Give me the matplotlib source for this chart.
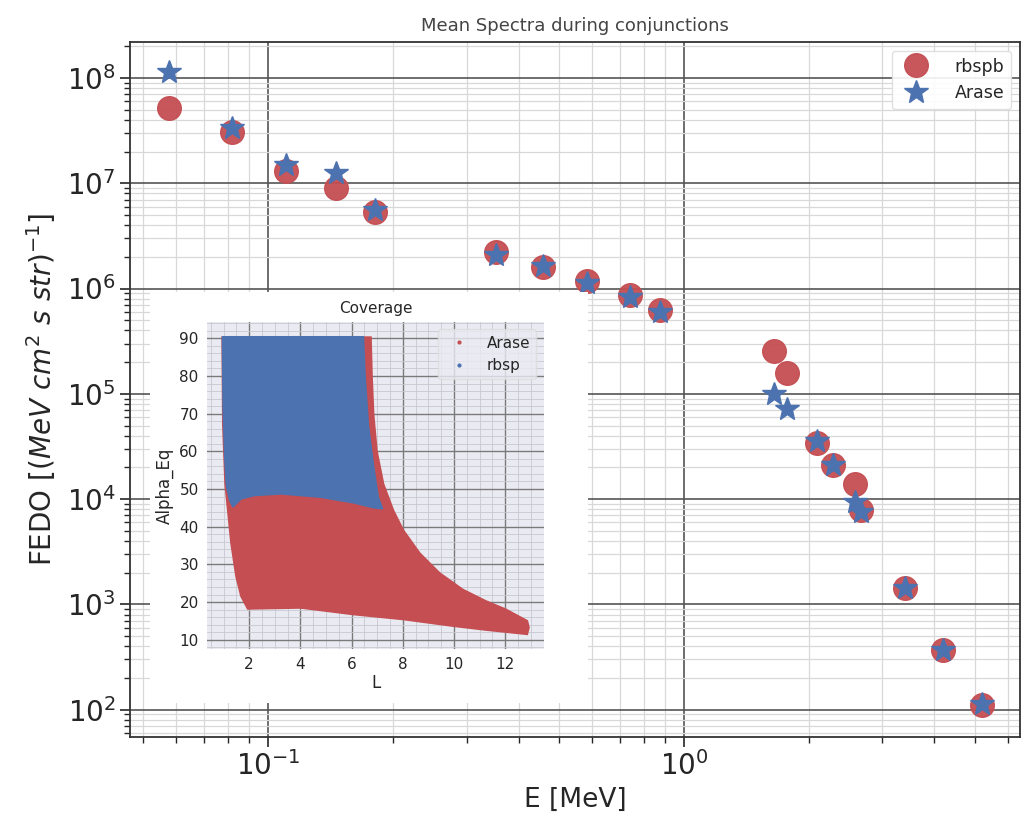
import numpy as np
import matplotlib
matplotlib.use("Agg")
import matplotlib.pyplot as plt
from matplotlib.patches import Rectangle
from matplotlib.lines import Line2D
from matplotlib.ticker import MultipleLocator, NullFormatter

# Espectros medios
energy = [0.0579, 0.0818, 0.1103, 0.1455, 0.1811, 0.3526, 0.4589, 0.5835, 0.7417, 0.8757,
          1.643, 1.766, 2.088, 2.281, 2.581, 2.668, 3.399, 4.201, 5.195]
fedo_rbspb = [5.15e7, 3.05e7, 1.32e7, 8.95e6, 5.37e6, 2.22e6, 1.61e6, 1.19e6, 8.61e5, 6.25e5,
              2.53e5, 1.56e5, 3.43e4, 2.10e4, 1.40e4, 7.85e3, 1.43e3, 367, 110]
fedo_arase = [1.13e8, 3.33e7, 1.49e7, 1.24e7, 5.57e6, 2.08e6, 1.64e6, 1.13e6, 8.3e5, 5.98e5,
              9.9e4, 7.16e4, 3.56e4, 2.1e4, 9.4e3, 7.57e3, 1.43e3, 367, 113]

# Contorno de la cobertura (L, Alpha_Eq)
arase_L = [0.955, 6.748, 6.787, 6.852, 6.981, 7.239, 7.626, 8.013, 8.658, 9.432, 10.335,
           11.239, 12.013, 12.852, 12.916, 12.852, 11.239, 9.948, 8.013, 6.077, 4.013,
           1.948, 1.690, 1.497, 1.303, 1.200, 1.071, 0.981]
arase_alpha = [90.26, 90.26, 80.2, 69.7, 60.07, 51.3, 44.3, 39.06, 32.93, 27.68, 23.3,
               20.24, 18.05, 14.99, 13.24, 11.49, 12.63, 13.67, 15.43, 16.74, 18.49,
               18.23, 21.55, 26.8, 35.56, 42.56, 51.3, 67.07]
rbsp_L = [0.955, 6.465, 6.529, 6.658, 6.852, 7.045, 7.213, 6.852, 6.077, 4.787, 3.239,
          2.206, 1.690, 1.368, 1.239, 1.110, 1.045, 0.981]
rbsp_alpha = [90.44, 90.44, 80.2, 67.07, 56.56, 47.81, 44.75, 45.01, 46.32, 47.81, 48.69,
              48.25, 47.37, 45.19, 46.94, 50.88, 58.32, 71.44]

red = '#C44E52'
blue = '#4C72B0'
text_col = '#262626'

plt.rcParams['font.family'] = 'DejaVu Sans'
plt.rcParams['text.color'] = text_col
plt.rcParams['axes.labelcolor'] = text_col
plt.rcParams['xtick.color'] = text_col
plt.rcParams['ytick.color'] = text_col

fig = plt.figure(figsize=(10.25, 8.22), dpi=100)
ax = fig.add_axes([0.127, 0.1034, 0.868, 0.8456])
ax.set_zorder(0)

ax.plot(energy, fedo_rbspb, 'o', color=red, markersize=17, alpha=0.95, label='rbspb', zorder=3)
ax.plot(energy, fedo_arase, '*', color=blue, markersize=18, label='Arase', zorder=4)
ax.set_xscale('log')
ax.set_yscale('log')
ax.set_xlim(0.0466, 6.42)
ax.set_ylim(55, 2.2e8)
ax.xaxis.set_minor_formatter(NullFormatter())
ax.yaxis.set_minor_formatter(NullFormatter())

ax.grid(which='major', color='#555555', linewidth=1.2)
ax.grid(which='minor', color='#d8d8d8', linewidth=0.9)
ax.set_axisbelow(True)
for s in ax.spines.values():
    s.set_color('#333333')
    s.set_linewidth(1.3)
ax.tick_params(which='major', labelsize=20, length=7, width=1.2)
ax.tick_params(which='minor', length=4, width=1.0)
ax.set_xlabel('E [MeV]', fontsize=19)
ax.set_ylabel('FEDO [$(MeV\\ cm^2\\ s\\ str)^{-1}$]', fontsize=20, labelpad=6)
ax.set_title('Mean Spectra during conjunctions', fontsize=13, color='#444444', pad=8)
ax.legend(loc='upper right', fontsize=12.5, markerscale=1.0, framealpha=0.9,
          edgecolor='#dddddd', borderpad=0.4, handletextpad=1.2)

# Fondo blanco del recuadro
fig.add_artist(Rectangle((0.1463, 0.1448), 0.4274, 0.5, transform=fig.transFigure,
                         facecolor='white', edgecolor='none', zorder=1))

# Recuadro: cobertura
ins = fig.add_axes([0.202, 0.2105, 0.3288, 0.398])
ins.set_zorder(2)
ins.set_facecolor('#EAEAF2')
ins.fill(arase_L, arase_alpha, color=red, linewidth=1.5, edgecolor=red)
ins.fill(rbsp_L, rbsp_alpha, color=blue, linewidth=1.0, edgecolor=blue)
for s in ins.spines.values():
    s.set_visible(False)
ins.xaxis.set_minor_locator(MultipleLocator(0.5))
ins.yaxis.set_minor_locator(MultipleLocator(2))
ins.grid(which='major', color='#7a7a7a', linewidth=1.0)
ins.grid(which='minor', color='#c8c8d0', linewidth=0.6)
ins.set_axisbelow(True)
ins.tick_params(which='both', length=0, labelsize=11, pad=6)
ins.set_xticks([2, 4, 6, 8, 10, 12])
ins.set_yticks([10, 20, 30, 40, 50, 60, 70, 80, 90])
ins.set_xlabel('L', fontsize=12, labelpad=1)
ins.set_ylabel('Alpha_Eq', fontsize=12)
ins.set_title('Coverage', fontsize=11)
handles = [Line2D([], [], marker='.', linestyle='none', color=red, markersize=4, label='Arase'),
           Line2D([], [], marker='.', linestyle='none', color=blue, markersize=4, label='rbsp')]
ins.legend(handles=handles, loc='upper right', fontsize=11, facecolor='#EAEAF2',
           edgecolor='#dddddd', framealpha=0.8)

fig.savefig('out.png', dpi=100)
